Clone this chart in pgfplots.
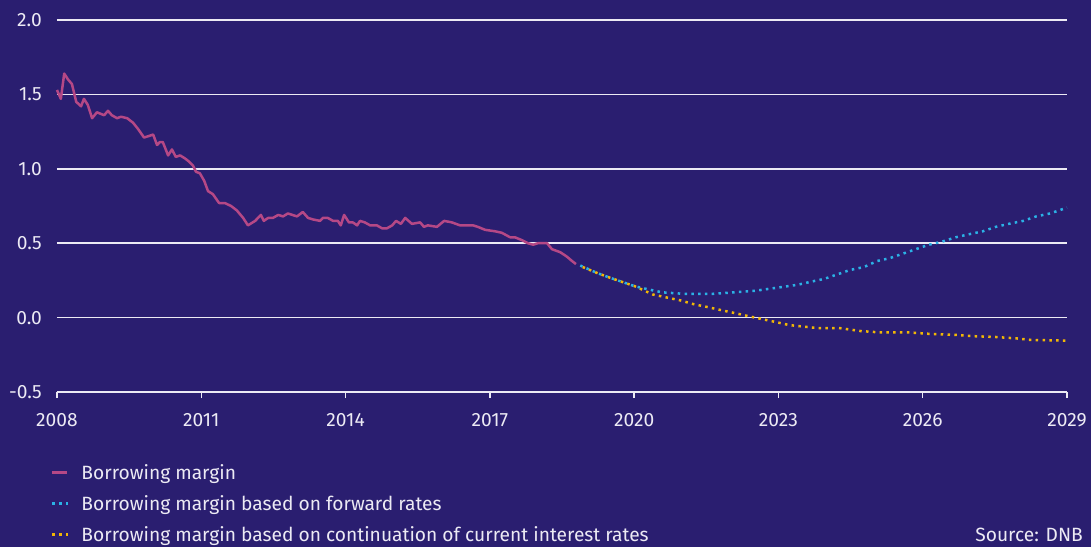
\documentclass[border=0pt]{standalone}
\usepackage{fontspec}
\setmainfont{Fira Sans}
\usepackage{pgfplots}
\pgfplotsset{compat=1.18}
\definecolor{bg}{RGB}{42,30,112}
\definecolor{gridc}{RGB}{236,234,244}
\definecolor{txt}{RGB}{236,234,244}
\definecolor{mag}{RGB}{181,72,134}
\definecolor{cyn}{RGB}{43,178,230}
\definecolor{ylw}{RGB}{242,183,5}
\begin{document}
\begin{tikzpicture}[font=\fontsize{19.2}{22}\selectfont]
\path[use as bounding box, fill=bg] (-57pt,-155pt) rectangle (1034pt,392pt);
\begin{axis}[
  at={(0pt,0pt)}, anchor=south west, scale only axis,
  width=1010pt, height=372pt,
  xmin=2008, xmax=2029, ymin=-0.5, ymax=2,
  axis x line=bottom, axis y line=left,
  x axis line style={draw=gridc, line width=1.5pt, -},
  y axis line style={draw=none},
  xtick={2008,2011,2014,2017,2020,2023,2026,2029},
  ytick={-0.5,0,0.5,1,1.5,2},
  ymajorgrids, grid style={gridc, line width=1.5pt},
  tick align=outside, major tick length=6pt,
  x tick style={gridc, line width=1.5pt},
  y tick style={draw=none},
  /pgf/number format/assume math mode=true,
  xticklabel style={inner sep=0pt, yshift=-15pt, text=txt, /pgf/number format/1000 sep=},
  yticklabel style={inner sep=0pt, xshift=-9pt, text=txt, /pgf/number format/.cd, fixed, fixed zerofill, precision=1},
  legend style={at={(axis description cs:0,0)}, anchor=north west, xshift=-6pt, yshift=-74pt,
    draw=none, fill=none, inner sep=0pt, outer sep=0pt, text=txt, row sep=0pt,
    nodes={inner sep=0pt, text height=13pt, text depth=18pt},
    /tikz/every odd column/.style={column sep=12pt}},
  legend cell align=left,
  clip=false,
]
\addplot[mag, line width=2.5pt, line join=round, legend image code/.code={\path (0pt,0pt) (15pt,0pt); \draw[mag, line width=2.5pt] (0pt,9pt) -- (15pt,9pt);}] table {
2008.00 1.53
2008.08 1.47
2008.15 1.64
2008.23 1.60
2008.31 1.57
2008.40 1.45
2008.50 1.42
2008.56 1.47
2008.64 1.43
2008.73 1.34
2008.83 1.38
2008.98 1.36
2009.06 1.39
2009.14 1.36
2009.25 1.34
2009.33 1.35
2009.46 1.34
2009.58 1.31
2009.68 1.27
2009.81 1.21
2010.00 1.23
2010.08 1.16
2010.14 1.18
2010.20 1.18
2010.31 1.09
2010.39 1.13
2010.47 1.08
2010.56 1.09
2010.66 1.07
2010.74 1.05
2010.83 1.02
2010.89 0.98
2010.97 0.97
2011.06 0.92
2011.14 0.85
2011.24 0.83
2011.37 0.77
2011.49 0.77
2011.62 0.75
2011.74 0.72
2011.87 0.67
2011.97 0.62
2012.12 0.65
2012.24 0.69
2012.30 0.65
2012.39 0.67
2012.49 0.67
2012.60 0.69
2012.70 0.68
2012.80 0.70
2012.99 0.68
2013.11 0.71
2013.22 0.67
2013.32 0.66
2013.47 0.65
2013.53 0.67
2013.63 0.67
2013.74 0.65
2013.84 0.65
2013.90 0.62
2013.97 0.69
2014.07 0.64
2014.15 0.64
2014.24 0.62
2014.30 0.65
2014.40 0.64
2014.51 0.62
2014.65 0.62
2014.76 0.60
2014.86 0.60
2014.97 0.62
2015.05 0.65
2015.15 0.63
2015.24 0.67
2015.38 0.63
2015.55 0.64
2015.63 0.61
2015.71 0.62
2015.90 0.61
2016.05 0.65
2016.21 0.64
2016.38 0.62
2016.65 0.62
2016.75 0.61
2016.90 0.59
2017.11 0.58
2017.25 0.57
2017.42 0.54
2017.52 0.54
2017.67 0.52
2017.79 0.50
2017.90 0.49
2018.00 0.50
2018.19 0.50
2018.29 0.46
2018.46 0.44
2018.60 0.41
2018.71 0.38
2018.79 0.36
};
\addlegendentry{Borrowing margin}
\addplot[cyn, line width=2.5pt, dash pattern=on 2.5pt off 4.3pt, legend image code/.code={\path (0pt,0pt) (15pt,0pt); \draw[cyn, line width=2.5pt, dash pattern=on 2.5pt off 4.3pt] (0pt,9pt) -- (16pt,9pt);}] table {
2018.88 0.35
2019.23 0.30
2019.48 0.27
2019.75 0.24
2020.02 0.21
2020.29 0.19
2020.58 0.17
2021.02 0.16
2021.64 0.16
2022.08 0.17
2022.51 0.18
2022.95 0.20
2023.39 0.22
2023.66 0.24
2023.95 0.26
2024.22 0.29
2024.49 0.32
2024.78 0.34
2025.05 0.38
2025.32 0.40
2025.59 0.43
2025.86 0.46
2026.13 0.49
2026.40 0.51
2026.69 0.54
2026.96 0.56
2027.25 0.58
2027.52 0.61
2027.79 0.63
2028.09 0.65
2028.36 0.68
2028.65 0.70
2028.92 0.73
2029.00 0.74
};
\addlegendentry{Borrowing margin based on forward rates}
\addplot[ylw, line width=2.5pt, dash pattern=on 2.5pt off 4.3pt, legend image code/.code={\path (0pt,0pt) (15pt,0pt); \draw[ylw, line width=2.5pt, dash pattern=on 2.5pt off 4.3pt] (0pt,9pt) -- (16pt,9pt);}] table {
2018.93 0.34
2019.23 0.30
2019.48 0.27
2019.75 0.24
2020.02 0.21
2020.39 0.155
2020.68 0.135
2020.97 0.115
2021.24 0.09
2021.54 0.07
2021.81 0.05
2022.10 0.03
2022.37 0.01
2022.66 -0.01
2022.95 -0.03
2023.22 -0.05
2023.51 -0.06
2023.80 -0.07
2024.26 -0.07
2024.70 -0.09
2025.13 -0.10
2025.74 -0.10
2026.17 -0.11
2026.63 -0.115
2027.07 -0.125
2027.50 -0.13
2027.96 -0.14
2028.25 -0.15
2029.00 -0.155
};
\addlegendentry{Borrowing margin based on continuation of current interest rates}
\end{axis}
\node[anchor=base east, inner sep=0pt, text=txt] at (1026pt,-149pt) {Source: DNB};
\end{tikzpicture}
\end{document}
